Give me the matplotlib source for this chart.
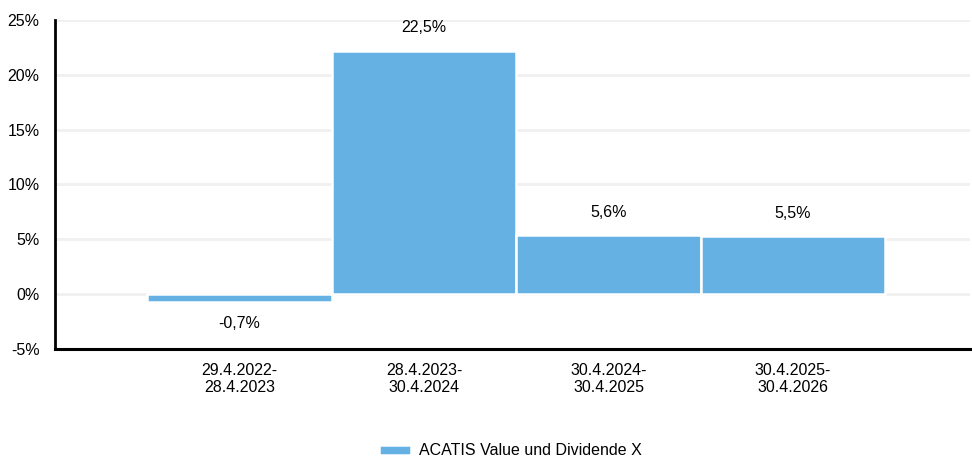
import matplotlib
matplotlib.use("Agg")
import matplotlib.pyplot as plt
from matplotlib.ticker import FuncFormatter

plt.rcParams["font.family"] = ["Liberation Sans", "DejaVu Sans"]

periods = ["29.4.2022-\n28.4.2023", "28.4.2023-\n30.4.2024",
           "30.4.2024-\n30.4.2025", "30.4.2025-\n30.4.2026"]
returns = [-0.7, 22.2, 5.4, 5.3]
labels  = ["-0,7%", "22,5%", "5,6%", "5,5%"]
yticks  = [-5, 0, 5, 10, 15, 20, 25]
series  = "ACATIS Value und Dividende X"
BAR_COLOR = "#65B1E3"

fig = plt.figure(figsize=(9.72, 4.59), dpi=100)
ax = fig.add_axes([0.0566, 0.2397, 0.9414, 0.7167])

x = list(range(len(periods)))
ax.bar(x, returns, width=1.0, color=BAR_COLOR, edgecolor="white",
       linewidth=1.8, label=series, zorder=3)

for xi, v, lab in zip(x, returns, labels):
    if v >= 0:
        ax.annotate(lab, (xi, v), xytext=(0, 11), textcoords="offset points",
                    ha="center", va="bottom", fontsize=11.5)
    else:
        ax.annotate(lab, (xi, v), xytext=(0, -10), textcoords="offset points",
                    ha="center", va="top", fontsize=11.5)

ax.set_xlim(-1.0, 3.96)
ax.set_ylim(-5, 25)
ax.set_yticks(yticks)
ax.yaxis.set_major_formatter(FuncFormatter(lambda v, _: f"{v:.0f}%"))
ax.set_xticks(x)
ax.set_xticklabels(periods, fontsize=11.5, linespacing=1.2)
ax.tick_params(axis="y", length=0, pad=11, labelsize=11.5)
ax.tick_params(axis="x", length=0, pad=10)

ax.grid(axis="y", color="#F0F0F0", linewidth=2, zorder=0)
ax.set_axisbelow(True)
for s in ["top", "right"]:
    ax.spines[s].set_visible(False)
ax.spines["left"].set_linewidth(2)
ax.spines["bottom"].set_linewidth(2.2)
ax.spines["left"].set_color("black")
ax.spines["bottom"].set_color("black")

fig.legend(loc="center", bbox_to_anchor=(0.525, 0.018), frameon=False,
           fontsize=11.5, handlelength=2.0, handleheight=0.6, handletextpad=0.5,
           borderpad=0.0)

fig.savefig("out.png", dpi=100)
